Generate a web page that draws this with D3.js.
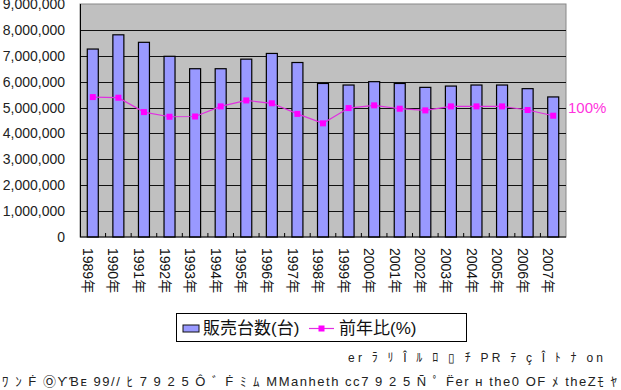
<!DOCTYPE html>
<html>
<head>
<meta charset="utf-8">
<script src="https://cdn.jsdelivr.net/npm/d3@7"></script>
<style>
  body { margin: 0; background: #fff; }
  svg { display: block; }
  text { font-family: "Liberation Sans", "Noto Sans CJK JP", sans-serif; }
</style>
</head>
<body>
<div id="container"></div>
<script>
var years = ['1989年', '1990年', '1991年', '1992年', '1993年', '1994年', '1995年', '1996年', '1997年', '1998年',
             '1999年', '2000年', '2001年', '2002年', '2003年', '2004年', '2005年', '2006年', '2007年'];
var sales = [7260000, 7810000, 7520000, 6980000, 6500000, 6500000, 6870000, 7090000, 6740000, 5930000,
             5870000, 6000000, 5930000, 5780000, 5830000, 5870000, 5870000, 5730000, 5410000];
var ratio = [108.1, 107.6, 96.5, 92.9, 93.1, 100.9, 105.5, 103.3, 95.1, 87.8,
             99.6, 101.7, 99.1, 97.8, 100.9, 100.9, 100.9, 98.1, 93.7];
var yTicks = [0, 1000000, 2000000, 3000000, 4000000, 5000000, 6000000, 7000000, 8000000, 9000000];
var legendNames = ['販売台数(台)', '前年比(%)'];
var noise1 = 'er ﾗ ﾘ      Î ﾙ ﾛ ▯ ﾁ PR ﾃ ç Î ﾄ ﾅ on';
var noise2 = 'ﾜ ﾝ Ḟ ⓄƳƁᴇ  99// ﾋ 7  9  2  5  Ô ﾞ Ḟ ﾐ ﾑ MManheth cc7  9  2  5  Ñ ﾟ F̈er ʜ the0 OF ﾒ theZﾓ ﾔ';

var width = 621, height = 390;
var plot = {left: 80, right: 566, top: 4, bottom: 237};

var svg = d3.select('#container')
    .append('svg')
    .attr('width', width)
    .attr('height', height);

var x = d3.scaleBand()
    .domain(years)
    .range([plot.left, plot.right])
    .paddingInner(0.57)
    .paddingOuter(0.285);

var y = d3.scaleLinear()
    .domain([0, 9000000])
    .range([plot.bottom, plot.top]);

// hidden secondary axis for the ratio line
var y2 = d3.scaleLinear()
    .domain([0, 180])
    .range([plot.bottom, plot.top]);

svg.append('rect')
    .attr('x', plot.left)
    .attr('y', plot.top)
    .attr('width', plot.right - plot.left)
    .attr('height', plot.bottom - plot.top)
    .style('fill', '#c0c0c0')
    .style('stroke', '#888');

svg.append('g')
    .selectAll('line')
    .data(yTicks.slice(1, -1))
    .enter()
    .append('line')
    .attr('x1', plot.left)
    .attr('x2', plot.right)
    .attr('y1', function(d) { return Math.round(y(d)) + 0.5; })
    .attr('y2', function(d) { return Math.round(y(d)) + 0.5; })
    .style('stroke', '#111')
    .style('stroke-width', 1);

svg.append('g')
    .selectAll('rect')
    .data(sales)
    .enter()
    .append('rect')
    .attr('x', function(d, i) { return x(years[i]); })
    .attr('y', function(d) { return y(d); })
    .attr('width', x.bandwidth())
    .attr('height', function(d) { return plot.bottom - y(d); })
    .style('fill', '#9999ff')
    .style('stroke', '#000')
    .style('stroke-width', 1.2);

// axes lines
svg.append('line')
    .attr('x1', plot.left + 0.5).attr('x2', plot.left + 0.5)
    .attr('y1', plot.top).attr('y2', plot.bottom)
    .style('stroke', '#000');

var xAxis = svg.append('g')
    .attr('transform', 'translate(0,' + plot.bottom + ')');
xAxis.append('line')
    .attr('x1', plot.left).attr('x2', plot.right)
    .style('stroke', '#000');
xAxis.selectAll('.tk')
    .data(years.slice(1))
    .enter()
    .append('line')
    .attr('x1', function(d) { return x(d) - x.step() * x.paddingInner() / 2; })
    .attr('x2', function(d) { return x(d) - x.step() * x.paddingInner() / 2; })
    .attr('y1', -4).attr('y2', 0)
    .style('stroke', '#000');

xAxis.selectAll('.lbl')
    .data(years)
    .enter()
    .append('text')
    .attr('transform', function(d) {
        return 'translate(' + (x(d) + x.bandwidth() / 2 - 5) + ',11) rotate(90)';
    })
    .attr('dy', '0.35em')
    .style('font-size', '14px')
    .style('fill', '#111')
    .text(function(d) { return d; });

svg.append('g')
    .call(d3.axisLeft(y).tickValues(yTicks).tickSize(0).tickPadding(15).tickFormat(d3.format(',')))
    .attr('transform', 'translate(' + plot.left + ',0)')
    .call(function(g) { g.select('.domain').remove(); })
    .selectAll('text')
    .style('font-size', '14px')
    .style('font-family', '"Liberation Sans", sans-serif')
    .style('fill', '#222');

// ratio line
var line = d3.line()
    .x(function(d, i) { return x(years[i]) + x.bandwidth() / 2; })
    .y(function(d) { return y2(d); });

svg.append('path')
    .datum(ratio)
    .attr('d', line)
    .style('fill', 'none')
    .style('stroke', '#e030e0')
    .style('stroke-width', 1.2);

svg.append('g')
    .selectAll('rect')
    .data(ratio)
    .enter()
    .append('rect')
    .attr('x', function(d, i) { return x(years[i]) + x.bandwidth() / 2 - 3; })
    .attr('y', function(d) { return y2(d) - 3; })
    .attr('width', 6)
    .attr('height', 6)
    .style('fill', '#ff00ff');

svg.append('text')
    .attr('x', 568)
    .attr('y', y2(100))
    .attr('dy', '0.35em')
    .style('font-size', '15px')
    .style('fill', '#ff33dd')
    .text('100%');

// legend
var legend = svg.append('g');
legend.append('rect')
    .attr('x', 176.5).attr('y', 313.5)
    .attr('width', 290).attr('height', 28)
    .style('fill', '#fff')
    .style('stroke', '#000');
legend.append('rect')
    .attr('x', 183).attr('y', 325)
    .attr('width', 16).attr('height', 7)
    .style('fill', '#9999ff')
    .style('stroke', '#111');
legend.append('text')
    .attr('x', 203).attr('y', 328)
    .attr('dy', '0.35em')
    .style('font-size', '17px')
    .style('fill', '#111')
    .text(legendNames[0]);
legend.append('line')
    .attr('x1', 309).attr('x2', 334)
    .attr('y1', 328.5).attr('y2', 328.5)
    .style('stroke', '#e030e0')
    .style('stroke-width', 1.2);
legend.append('rect')
    .attr('x', 318.5).attr('y', 325.5)
    .attr('width', 6).attr('height', 6)
    .style('fill', '#ff00ff');
legend.append('text')
    .attr('x', 339).attr('y', 328)
    .attr('dy', '0.35em')
    .style('font-size', '17px')
    .style('fill', '#111')
    .text(legendNames[1]);

// scrambled glyph lines below the chart
svg.append('text')
    .attr('x', 348).attr('y', 362)
    .attr('textLength', 255)
    .attr('lengthAdjust', 'spacing')
    .style('font-size', '12px')
    .style('fill', '#222')
    .text(noise1);
svg.append('text')
    .attr('x', 2).attr('y', 386)
    .attr('textLength', 615)
    .attr('lengthAdjust', 'spacing')
    .style('font-size', '13px')
    .style('fill', '#222')
    .text(noise2);
</script>
</body>
</html>
